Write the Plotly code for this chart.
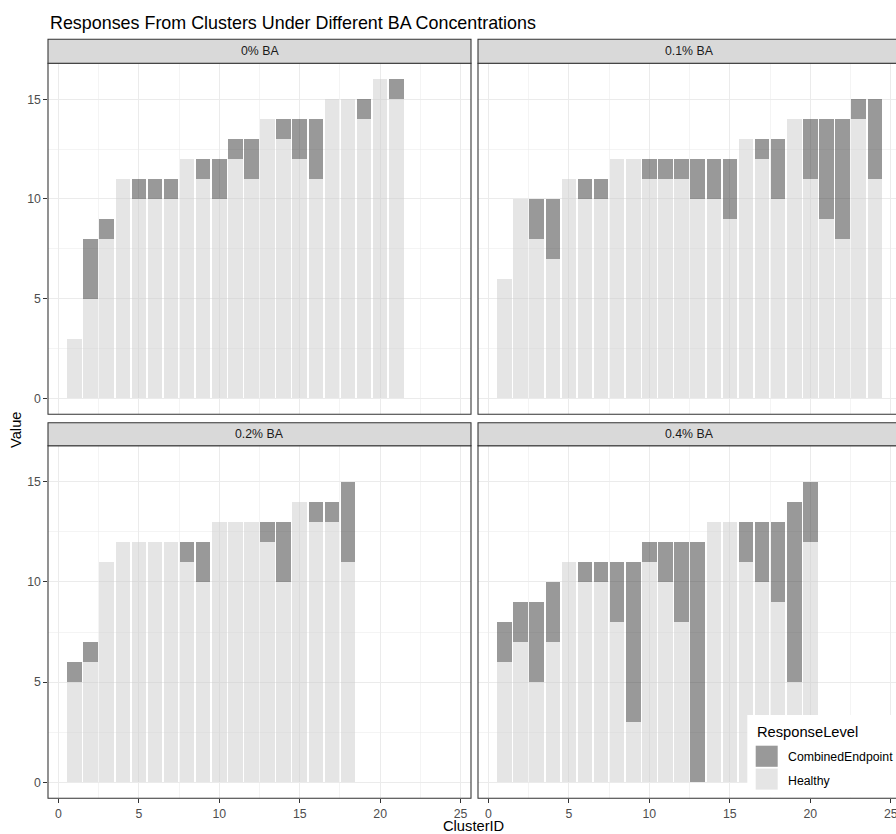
import plotly.graph_objects as go

# ---------------- data ----------------
panel_labels = ["0% BA", "0.1% BA", "0.2% BA", "0.4% BA"]
series_names = ["CombinedEndpoint", "Healthy"]

clusters_0 = list(range(1, 22))
healthy_0 = [3, 5, 8, 11, 10, 10, 10, 12, 11, 10, 12, 11, 14, 13, 12, 11, 15, 15, 14, 16, 15]
combined_0 = [0, 3, 1, 0, 1, 1, 1, 0, 1, 2, 1, 2, 0, 1, 2, 3, 0, 0, 1, 0, 1]

clusters_01 = list(range(1, 25))
healthy_01 = [6, 10, 8, 7, 11, 10, 10, 12, 12, 11, 11, 11, 10, 10, 9, 13, 12, 10, 14, 11, 9, 8, 14, 11]
combined_01 = [0, 0, 2, 3, 0, 1, 1, 0, 0, 1, 1, 1, 2, 2, 3, 0, 1, 3, 0, 3, 5, 6, 1, 4]

clusters_02 = list(range(1, 19))
healthy_02 = [5, 6, 11, 12, 12, 12, 12, 11, 10, 13, 13, 13, 12, 10, 14, 13, 13, 11]
combined_02 = [1, 1, 0, 0, 0, 0, 0, 1, 2, 0, 0, 0, 1, 3, 0, 1, 1, 4]

clusters_04 = list(range(1, 21))
healthy_04 = [6, 7, 5, 7, 11, 10, 10, 8, 3, 11, 10, 8, 0, 13, 13, 11, 10, 9, 5, 12]
combined_04 = [2, 2, 4, 3, 0, 1, 1, 3, 8, 1, 2, 4, 12, 0, 0, 2, 3, 4, 9, 3]

x_ticks = [0, 5, 10, 15, 20, 25]
y_ticks = [0, 5, 10, 15]

# ---------------- style / layout ----------------
W, H = 896, 834
FONT = "Liberation Sans, Arial, sans-serif"
SMALL = 12.3
COL_COMBINED = "rgba(51,51,51,0.5)"
COL_HEALTHY = "rgba(204,204,204,0.5)"
GRID = "#EBEBEB"
BORDER = "#333333"


def fx(p):
    return p / W


def fy(p):
    return 1 - p / H


panels = [
    (clusters_0, healthy_0, combined_0),
    (clusters_01, healthy_01, combined_01),
    (clusters_02, healthy_02, combined_02),
    (clusters_04, healthy_04, combined_04),
]

# pixel frames of each panel: (left, right), (top, bottom)
LEFT_X = (48, 471)
RIGHT_X = (478, 896)
TOP_Y = (63.3, 414.3)
BOT_Y = (445.7, 798.3)
frames = [(LEFT_X, TOP_Y), (RIGHT_X, TOP_Y), (LEFT_X, BOT_Y), (RIGHT_X, BOT_Y)]

fig = go.Figure()

for i, (ids, hv, cv) in enumerate(panels):
    s = "" if i == 0 else str(i + 1)
    fig.add_trace(go.Bar(x=ids, y=hv, name=series_names[1], xaxis="x" + s, yaxis="y" + s,
                         marker=dict(color=COL_HEALTHY, line=dict(width=0)), width=0.9,
                         showlegend=False))
    fig.add_trace(go.Bar(x=ids, y=cv, name=series_names[0], xaxis="x" + s, yaxis="y" + s,
                         marker=dict(color=COL_COMBINED, line=dict(width=0)), width=0.9,
                         showlegend=False))

layout = dict(
    width=W, height=H, template="none", barmode="stack",
    margin=dict(l=0, r=0, t=0, b=0, pad=0),
    paper_bgcolor="white", plot_bgcolor="white",
    font=dict(family=FONT, size=SMALL, color="#4D4D4D"),
)

for i in range(4):
    s = "" if i == 0 else str(i + 1)
    (xl, xr), (yt, yb) = frames[i]
    right_col = i in (1, 3)
    bottom_row = i in (2, 3)
    xr_range = [-0.645, 25.32] if right_col else [-0.645, 25.645]
    layout["xaxis" + s] = dict(
        domain=[fx(xl), min(1.0, fx(xr))], range=xr_range, anchor="y" + s,
        tickmode="array", tickvals=x_ticks, ticktext=[str(v) for v in x_ticks],
        showgrid=True, gridcolor=GRID, gridwidth=1.07, zeroline=False, showline=False,
        minor=dict(tick0=2.5, dtick=5, showgrid=True, gridcolor=GRID, gridwidth=0.55, ticks=""),
        ticks="outside" if bottom_row else "", ticklen=3.7, tickwidth=1.07, tickcolor=BORDER,
        showticklabels=bottom_row, ticklabeloverflow="allow",
        tickfont=dict(family=FONT, size=SMALL, color="#4D4D4D"),
        automargin=False, fixedrange=True,
    )
    layout["yaxis" + s] = dict(
        domain=[fy(yb), fy(yt)], range=[-0.8, 16.8], anchor="x" + s,
        tickmode="array", tickvals=y_ticks, ticktext=[str(v) for v in y_ticks],
        showgrid=True, gridcolor=GRID, gridwidth=1.07, zeroline=False, showline=False,
        minor=dict(tick0=2.5, dtick=5, showgrid=True, gridcolor=GRID, gridwidth=0.55, ticks=""),
        ticks="" if right_col else "outside", ticklen=3.7, tickwidth=1.07, tickcolor=BORDER,
        showticklabels=not right_col, ticklabeloverflow="allow",
        tickfont=dict(family=FONT, size=SMALL, color="#4D4D4D"),
        automargin=False, fixedrange=True,
    )

shapes = []
annotations = []

# legend (custom, inside bottom-right panel)
LEG_L, LEG_T, LEG_B = 747.3, 715, 797.6
shapes.append(dict(type="rect", xref="paper", yref="paper", x0=fx(LEG_L), x1=fx(910),
                   y0=fy(LEG_B), y1=fy(LEG_T), fillcolor="white", line=dict(width=0), layer="above"))
shapes.append(dict(type="rect", xref="paper", yref="paper", x0=fx(755.7), x1=fx(777.7),
                   y0=fy(766.8), y1=fy(745.7), fillcolor=COL_COMBINED, line=dict(width=0), layer="above"))
shapes.append(dict(type="rect", xref="paper", yref="paper", x0=fx(755.7), x1=fx(777.7),
                   y0=fy(789.6), y1=fy(768.6), fillcolor=COL_HEALTHY, line=dict(width=0), layer="above"))
annotations.append(dict(text="ResponseLevel", xref="paper", yref="paper", x=fx(755), y=fy(731.7),
                        xanchor="left", yanchor="middle", showarrow=False,
                        font=dict(family=FONT, size=14.7, color="#000000")))
for nm, yc in zip(series_names, [757.3, 780.7]):
    annotations.append(dict(text=nm, xref="paper", yref="paper", x=fx(786), y=fy(yc),
                            xanchor="left", yanchor="middle", showarrow=False,
                            font=dict(family=FONT, size=SMALL, color="#000000")))

# strips and panel borders
strip_rows = [(39.3, 63.3), (422.7, 445.7)]
for i in range(4):
    (xl, xr), (yt, yb) = frames[i]
    right_col = i in (1, 3)
    st, sb = strip_rows[0] if i < 2 else strip_rows[1]
    xr_draw = 910 if right_col else xr
    shapes.append(dict(type="rect", xref="paper", yref="paper", x0=fx(xl), x1=fx(xr_draw),
                       y0=fy(yb), y1=fy(yt), fillcolor="rgba(0,0,0,0)",
                       line=dict(color=BORDER, width=1.07), layer="above"))
    shapes.append(dict(type="rect", xref="paper", yref="paper", x0=fx(xl), x1=fx(xr_draw),
                       y0=fy(sb), y1=fy(st), fillcolor="#D9D9D9",
                       line=dict(color=BORDER, width=1.07), layer="above"))
    cx = (xl + (901 if right_col else xr)) / 2
    annotations.append(dict(text=panel_labels[i], xref="paper", yref="paper", x=fx(cx), y=fy((st + sb) / 2),
                            xanchor="center", yanchor="middle", showarrow=False,
                            font=dict(family=FONT, size=SMALL, color="#1A1A1A")))

# title and axis titles
annotations.append(dict(text="Responses From Clusters Under Different BA Concentrations", xref="paper", yref="paper",
                        x=fx(48), y=fy(22.5), xanchor="left", yanchor="middle", showarrow=False,
                        font=dict(family=FONT, size=17.9, color="#000000")))
annotations.append(dict(text="Value", xref="paper", yref="paper", x=fx(16), y=fy(430), textangle=-90,
                        xanchor="center", yanchor="middle", showarrow=False,
                        font=dict(family=FONT, size=14.7, color="#000000")))
annotations.append(dict(text="ClusterID", xref="paper", yref="paper", x=fx(474), y=fy(826),
                        xanchor="center", yanchor="middle", showarrow=False,
                        font=dict(family=FONT, size=14.7, color="#000000")))

layout["shapes"] = shapes
layout["annotations"] = annotations
fig.update_layout(**layout)

fig.write_html(
    "out.html",
    config={"displayModeBar": False, "staticPlot": True},
    post_script="document.body.style.margin='0px';document.body.style.overflow='hidden';",
)
